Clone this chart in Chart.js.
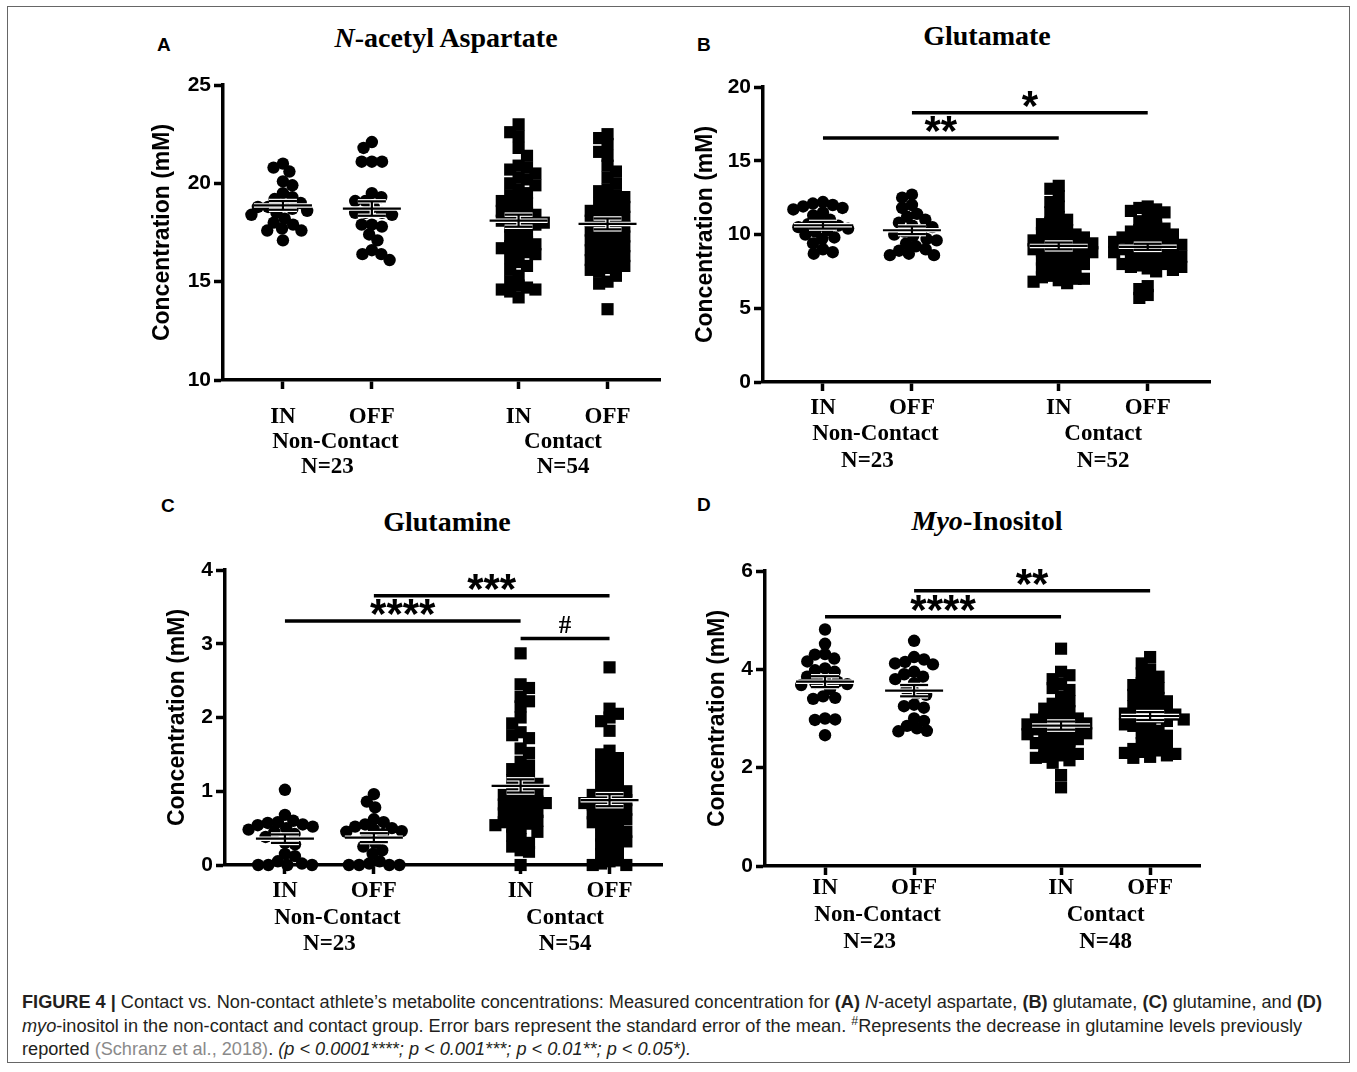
<!DOCTYPE html>
<html><head><meta charset="utf-8">
<script src="https://cdn.jsdelivr.net/npm/chart.js@4.4.1/dist/chart.umd.min.js"></script>
<style>
html,body{margin:0;padding:0;background:#fff;}
body{width:1357px;height:1072px;position:relative;overflow:hidden;}
#frame{position:absolute;left:7px;top:6px;width:1343px;height:1057px;border:1px solid #666;box-sizing:border-box;}
canvas{position:absolute;}
.title{position:absolute;font-family:"Liberation Serif","Times New Roman",serif;font-weight:bold;font-size:28px;transform:translate(-50%,-50%);white-space:nowrap;line-height:1;color:#000;}
.letter{position:absolute;font-family:"Liberation Sans",Arial,sans-serif;font-weight:bold;font-size:19px;line-height:1;color:#000;}
.cap{position:absolute;left:22px;font-family:"Liberation Sans",Arial,sans-serif;font-size:17.5px;line-height:23.5px;height:23.5px;color:#231f20;white-space:nowrap;transform-origin:0 50%;}
.cap .ref{color:#8a8a8a;}
</style>
</head><body>
<div id="frame"></div>
<div class="letter" style="left:157px;top:35px;">A</div>
<div class="letter" style="left:697px;top:35px;">B</div>
<div class="letter" style="left:161px;top:496px;">C</div>
<div class="letter" style="left:697px;top:495px;">D</div>
<div class="title" style="left:446px;top:38px;"><i>N</i>-acetyl Aspartate</div>
<div class="title" style="left:987px;top:36px;">Glutamate</div>
<div class="title" style="left:447px;top:522px;">Glutamine</div>
<div class="title" style="left:987px;top:521px;"><i>Myo</i>-Inositol</div>
<div class="cap" style="top:991px;"><b>FIGURE 4 |</b> Contact vs. Non-contact athlete’s metabolite concentrations: Measured concentration for <b>(A)</b> <i>N</i>-acetyl aspartate, <b>(B)</b> glutamate, <b>(C)</b> glutamine, and <b>(D)</b></div>
<div class="cap" style="top:1015px;"><i>myo</i>-inositol in the non-contact and contact group. Error bars represent the standard error of the mean. <sup style="font-size:12px;line-height:0">#</sup>Represents the decrease in glutamine levels previously</div>
<div class="cap" style="top:1038px;">reported <span class="ref">(Schranz et al., 2018)</span>. <i>(p &lt; 0.0001****; p &lt; 0.001***; p &lt; 0.01**; p &lt; 0.05*).</i></div>
<script>
// ---------- DATA ----------
const X_LABELS = ['IN', 'OFF', 'IN', 'OFF'];
const GROUP_LABELS = ['Non-Contact', 'Contact'];
const Y_TITLE = 'Concentration (mM)';

// (A) N-acetyl aspartate
const NAA_NC_IN  = [21.0, 20.8, 20.6, 20.1, 19.9, 19.5, 19.3, 19.2, 19.0, 18.9, 18.8, 18.8, 18.7, 18.6, 18.5, 18.4, 18.2, 18.0, 17.9, 17.7, 17.6, 17.6, 17.1];
const NAA_NC_OFF = [22.1, 21.8, 21.1, 21.1, 21.1, 19.5, 19.3, 19.1, 19.1, 18.8, 18.5, 18.5, 18.5, 18.4, 17.8, 17.9, 17.9, 17.1, 17.4, 16.6, 16.4, 16.4, 16.1];
const NAA_C_IN   = [23.0, 22.6, 22.4, 21.8, 21.4, 20.9, 20.8, 20.7, 20.5, 20.3, 20.2, 20.0, 19.9, 19.7, 19.5, 19.4, 19.2, 19.1, 19.0, 18.8, 18.7, 18.6, 18.5, 18.4, 18.3, 18.2, 18.1, 18.0, 18.0, 17.9, 17.8, 17.6, 17.5, 17.3, 17.1, 17.0, 16.9, 16.8, 16.7, 16.6, 16.5, 16.4, 16.2, 16.0, 15.8, 15.6, 15.3, 15.0, 14.8, 14.7, 14.6, 14.6, 14.5, 14.2];
const NAA_C_OFF  = [22.5, 22.3, 22.0, 21.6, 21.4, 20.9, 20.6, 20.3, 20.0, 19.7, 19.6, 19.4, 19.3, 19.2, 19.0, 18.9, 18.8, 18.7, 18.6, 18.5, 18.4, 18.3, 18.2, 18.1, 18.0, 17.9, 17.8, 17.7, 17.6, 17.5, 17.4, 17.3, 17.2, 17.1, 17.0, 16.9, 16.8, 16.7, 16.6, 16.5, 16.4, 16.3, 16.2, 16.1, 16.0, 15.9, 15.8, 15.7, 15.6, 15.5, 15.3, 15.0, 14.9, 13.6];
const NAA_N = ['N=23', 'N=54'];
const NAA_TICKS = [10, 15, 20, 25];
const NAA_SIG = [];

// (B) Glutamate
const GLU_NC_IN  = [12.2, 12.1, 12.0, 11.9, 11.8, 11.7, 11.5, 11.3, 11.0, 10.8, 10.7, 10.6, 10.5, 10.4, 10.3, 10.2, 10.0, 9.8, 9.7, 9.4, 9.0, 8.8, 8.7];
const GLU_NC_OFF = [12.7, 12.5, 12.0, 11.8, 11.4, 11.2, 11.0, 10.8, 10.6, 10.5, 10.3, 10.2, 10.0, 9.9, 9.7, 9.6, 9.4, 9.2, 9.0, 8.9, 8.7, 8.6, 8.6];
const GLU_C_IN   = [13.3, 13.1, 12.6, 12.2, 11.9, 11.5, 11.2, 11.0, 10.8, 10.7, 10.5, 10.3, 10.2, 10.1, 10.0, 9.9, 9.8, 9.7, 9.6, 9.6, 9.5, 9.4, 9.4, 9.3, 9.2, 9.1, 9.0, 9.0, 8.9, 8.8, 8.8, 8.7, 8.6, 8.5, 8.4, 8.3, 8.2, 8.1, 8.0, 7.9, 7.8, 7.7, 7.6, 7.5, 7.3, 7.2, 7.1, 7.0, 7.0, 6.9, 6.8, 6.7];
const GLU_C_OFF  = [11.9, 11.8, 11.7, 11.6, 11.5, 11.3, 11.1, 10.9, 10.7, 10.5, 10.4, 10.3, 10.2, 10.1, 10.0, 9.9, 9.8, 9.8, 9.7, 9.6, 9.5, 9.5, 9.4, 9.3, 9.3, 9.2, 9.1, 9.0, 9.0, 8.9, 8.8, 8.8, 8.7, 8.6, 8.5, 8.5, 8.4, 8.3, 8.2, 8.1, 8.0, 8.0, 7.9, 7.8, 7.8, 7.7, 7.6, 7.5, 6.5, 6.3, 5.9, 5.7];
const GLU_N = ['N=23', 'N=52'];
const GLU_TICKS = [0, 5, 10, 15, 20];
const GLU_SIG = [{from: 0, to: 2, y: 16.55, label: '**'}, {from: 1, to: 3, y: 18.25, label: '*'}];

// (C) Glutamine
const GLN_NC_IN  = [1.02, 0.68, 0.60, 0.58, 0.57, 0.55, 0.54, 0.52, 0.50, 0.48, 0.45, 0.42, 0.38, 0.30, 0.28, 0.15, 0.12, 0.05, 0.02, 0.0, 0.0, 0.0, 0.0];
const GLN_NC_OFF = [0.96, 0.86, 0.78, 0.62, 0.58, 0.55, 0.52, 0.50, 0.48, 0.46, 0.45, 0.42, 0.38, 0.30, 0.25, 0.20, 0.15, 0.05, 0.02, 0.0, 0.0, 0.0, 0.0];
const GLN_C_IN   = [2.87, 2.45, 2.40, 2.28, 2.22, 2.15, 2.00, 1.92, 1.80, 1.76, 1.72, 1.58, 1.52, 1.40, 1.35, 1.30, 1.25, 1.20, 1.15, 1.12, 1.10, 1.05, 1.02, 1.00, 0.98, 0.95, 0.92, 0.90, 0.88, 0.86, 0.84, 0.82, 0.80, 0.78, 0.75, 0.72, 0.70, 0.68, 0.65, 0.62, 0.60, 0.58, 0.56, 0.54, 0.52, 0.50, 0.45, 0.40, 0.35, 0.30, 0.25, 0.20, 0.18, 0.0];
const GLN_C_OFF  = [2.68, 2.12, 2.05, 2.00, 1.95, 1.82, 1.55, 1.50, 1.45, 1.40, 1.35, 1.30, 1.25, 1.20, 1.15, 1.10, 1.05, 1.02, 1.00, 0.98, 0.95, 0.92, 0.90, 0.88, 0.86, 0.84, 0.82, 0.80, 0.78, 0.75, 0.72, 0.70, 0.68, 0.65, 0.62, 0.60, 0.58, 0.55, 0.52, 0.48, 0.45, 0.40, 0.38, 0.35, 0.32, 0.28, 0.25, 0.20, 0.15, 0.10, 0.05, 0.02, 0.0, 0.0];
const GLN_N = ['N=23', 'N=54'];
const GLN_TICKS = [0, 1, 2, 3, 4];
const GLN_SIG = [{from: 0, to: 2, y: 3.31, label: '****'}, {from: 1, to: 3, y: 3.65, label: '***'}, {from: 2, to: 3, y: 3.07, label: '#'}];

// (D) Myo-inositol
const MI_NC_IN  = [4.81, 4.52, 4.31, 4.30, 4.22, 4.16, 4.02, 3.98, 3.95, 3.85, 3.78, 3.75, 3.72, 3.70, 3.68, 3.60, 3.45, 3.42, 3.40, 3.00, 2.98, 2.97, 2.66];
const MI_NC_OFF = [4.58, 4.25, 4.20, 4.15, 4.12, 4.10, 3.95, 3.90, 3.85, 3.80, 3.72, 3.58, 3.50, 3.48, 3.28, 3.25, 3.22, 3.00, 2.95, 2.85, 2.80, 2.75, 2.74];
const MI_C_IN   = [4.42, 3.95, 3.88, 3.80, 3.70, 3.62, 3.58, 3.45, 3.35, 3.30, 3.25, 3.20, 3.15, 3.10, 3.05, 3.02, 3.00, 2.98, 2.95, 2.92, 2.90, 2.88, 2.85, 2.82, 2.80, 2.78, 2.75, 2.72, 2.70, 2.68, 2.65, 2.60, 2.58, 2.55, 2.52, 2.50, 2.45, 2.40, 2.35, 2.30, 2.28, 2.25, 2.22, 2.20, 2.15, 2.10, 1.85, 1.60];
const MI_C_OFF  = [4.25, 4.12, 4.00, 3.92, 3.85, 3.78, 3.72, 3.68, 3.62, 3.58, 3.52, 3.48, 3.42, 3.38, 3.35, 3.30, 3.25, 3.22, 3.18, 3.15, 3.12, 3.10, 3.08, 3.05, 3.02, 3.00, 2.98, 2.95, 2.92, 2.88, 2.85, 2.80, 2.75, 2.70, 2.65, 2.60, 2.55, 2.50, 2.45, 2.40, 2.38, 2.35, 2.32, 2.30, 2.28, 2.25, 2.22, 2.20];
const MI_N = ['N=23', 'N=48'];
const MI_TICKS = [0, 2, 4, 6];
const MI_SIG = [{from: 0, to: 2, y: 5.07, label: '****'}, {from: 1, to: 3, y: 5.6, label: '**'}];

// ---------- LAYOUT ----------
const GROUP_X = [1, 2, 3.65, 4.65];
const X_MIN = 0.326;
const UNIT_PX = 89;
const AREA_H = 295;
const PAD_L = 10, Y_W = 90, PAD_T = 20, PAD_R = 20, X_H = 110;
const CIRCLE_GAP = 10.2, RECT_GAP = 8.4;

const PANELS = [
  {series: [NAA_NC_IN, NAA_NC_OFF, NAA_C_IN, NAA_C_OFF], ticks: NAA_TICKS, nl: NAA_N, sig: NAA_SIG,
   areaLeft: 223, areaTop: 85, xMax: 5.24, labOff: [37, 62, 87], titleOff: 60},
  {series: [GLU_NC_IN, GLU_NC_OFF, GLU_C_IN, GLU_C_OFF], ticks: GLU_TICKS, nl: GLU_N, sig: GLU_SIG,
   areaLeft: 763, areaTop: 87, xMax: 5.35, labOff: [26, 52, 79], titleOff: 57},
  {series: [GLN_NC_IN, GLN_NC_OFF, GLN_C_IN, GLN_C_OFF], ticks: GLN_TICKS, nl: GLN_N, sig: GLN_SIG,
   areaLeft: 225, areaTop: 570, xMax: 5.24, labOff: [26, 53, 79], titleOff: 47},
  {series: [MI_NC_IN, MI_NC_OFF, MI_C_IN, MI_C_OFF], ticks: MI_TICKS, nl: MI_N, sig: MI_SIG,
   areaLeft: 765, areaTop: 571, xMax: 5.21, labOff: [22, 49, 76], titleOff: 47}
];

const SANS = '"Liberation Sans", Arial, sans-serif';
const SERIF = '"Liberation Serif", "Times New Roman", serif';

function stats(v) {
  const n = v.length;
  const m = v.reduce((a, b) => a + b, 0) / n;
  const sd = Math.sqrt(v.reduce((a, b) => a + (b - m) * (b - m), 0) / (n - 1));
  return {m, se: sd / Math.sqrt(n)};
}

const overlay = {
  id: 'overlay',
  afterDatasetsDraw(chart) {
    const cfg = chart.options.plugins.overlay;
    const ctx = chart.ctx, xs = chart.scales.x, ys = chart.scales.y, ca = chart.chartArea;
    const px = i => xs.getPixelForValue(GROUP_X[i]);
    const line = (x1, y1, x2, y2) => { ctx.beginPath(); ctx.moveTo(x1, y1); ctx.lineTo(x2, y2); ctx.stroke(); };
    ctx.save();
    ctx.lineCap = 'butt';
    // mean +/- SEM
    cfg.series.forEach((vals, i) => {
      const s = stats(vals);
      const cx = px(i), ym = ys.getPixelForValue(s.m);
      const yh = ys.getPixelForValue(s.m + s.se), yl = ys.getPixelForValue(s.m - s.se);
      [['#fff', 4.5], ['#000', 2.2]].forEach(([col, w]) => {
        ctx.strokeStyle = col; ctx.lineWidth = w;
        line(cx - 29, ym, cx + 29, ym);
        line(cx - 14, yh, cx + 14, yh);
        line(cx - 14, yl, cx + 14, yl);
        line(cx, yh, cx, yl);
      });
    });
    // significance bars
    ctx.strokeStyle = '#000'; ctx.fillStyle = '#000'; ctx.lineWidth = 3.5;
    cfg.sig.forEach(b => {
      const x1 = px(b.from), x2 = px(b.to), y = ys.getPixelForValue(b.y);
      line(x1, y, x2, y);
      ctx.textAlign = 'center'; ctx.textBaseline = 'alphabetic';
      if (b.label === '#') {
        ctx.font = 'bold 25px ' + SERIF;
        ctx.fillText(b.label, (x1 + x2) / 2, y - 6);
      } else {
        ctx.font = 'bold 42px ' + SANS;
        ctx.fillText(b.label, (x1 + x2) / 2, y + 7);
      }
    });
    // category labels
    ctx.font = 'bold 23px ' + SERIF;
    ctx.textAlign = 'center'; ctx.textBaseline = 'middle';
    X_LABELS.forEach((t, i) => ctx.fillText(t, px(i), ca.bottom + cfg.labOff[0]));
    ctx.fillText(GROUP_LABELS[0], (px(0) + px(1)) / 2 + 8, ca.bottom + cfg.labOff[1]);
    ctx.fillText(GROUP_LABELS[1], (px(2) + px(3)) / 2, ca.bottom + cfg.labOff[1]);
    ctx.fillText(cfg.nl[0], (px(0) + px(1)) / 2, ca.bottom + cfg.labOff[2]);
    ctx.fillText(cfg.nl[1], (px(2) + px(3)) / 2, ca.bottom + cfg.labOff[2]);
    // y title
    ctx.translate(ca.left - cfg.titleOff, (ca.top + ca.bottom) / 2);
    ctx.rotate(-Math.PI / 2);
    ctx.font = 'bold 23px ' + SANS;
    ctx.fillText(Y_TITLE, 0, 0);
    ctx.restore();
  }
};

function swarm(chart) {
  const xs = chart.scales.x, ys = chart.scales.y;
  const unit = Math.abs(xs.getPixelForValue(1) - xs.getPixelForValue(0));
  chart.data.datasets.forEach((ds, i) => {
    const isRect = ds.pointStyle === 'rect';
    const d = isRect ? RECT_GAP : CIRCLE_GAP;
    const pts = ds.data.map((p, k) => ({k, y: p.y, py: ys.getPixelForValue(p.y)}));
    pts.sort((a, b) => a.py - b.py);
    const placed = [];
    pts.forEach((p, idx) => {
      const ivs = [];
      placed.forEach(q => {
        const dy = Math.abs(q.py - p.py);
        if (dy < d) {
          const w = isRect ? d : Math.sqrt(d * d - dy * dy);
          ivs.push([q.ox - w, q.ox + w]);
        }
      });
      const cands = [0];
      ivs.forEach(iv => cands.push(iv[0], iv[1]));
      cands.sort((a, b) => (Math.abs(a) - Math.abs(b)) || (idx % 2 ? a - b : b - a));
      let best = 0;
      for (const c of cands) {
        if (!ivs.some(iv => c > iv[0] + 1e-6 && c < iv[1] - 1e-6)) { best = c; break; }
      }
      p.ox = best; placed.push(p);
    });
    const out = new Array(pts.length);
    pts.forEach(p => { out[p.k] = {x: GROUP_X[i] + p.ox / unit, y: p.y}; });
    ds.data = out;
  });
}

PANELS.forEach(cfg => {
  const areaW = (cfg.xMax - X_MIN) * UNIT_PX;
  const cv = document.createElement('canvas');
  cv.width = Math.round(PAD_L + Y_W + areaW + PAD_R);
  cv.height = PAD_T + AREA_H + X_H;
  cv.style.left = (cfg.areaLeft - PAD_L - Y_W) + 'px';
  cv.style.top = (cfg.areaTop - PAD_T) + 'px';
  cv.style.width = cv.width + 'px';
  cv.style.height = cv.height + 'px';
  document.body.appendChild(cv);
  const ticks = cfg.ticks;
  const datasets = cfg.series.map((vals, i) => ({
    data: vals.map(v => ({x: GROUP_X[i], y: v})),
    pointStyle: i < 2 ? 'circle' : 'rect',
    pointRadius: i < 2 ? 6.2 : 8.6,
    pointHoverRadius: i < 2 ? 6.2 : 8.6,
    backgroundColor: '#000',
    borderColor: '#000',
    borderWidth: 0,
    clip: false
  }));
  const chart = new Chart(cv, {
    type: 'scatter',
    data: {datasets},
    options: {
      responsive: false,
      devicePixelRatio: 1,
      animation: false,
      events: [],
      layout: {padding: {left: PAD_L, top: PAD_T, right: PAD_R, bottom: 0}},
      plugins: {legend: {display: false}, tooltip: {enabled: false}, overlay: cfg},
      scales: {
        x: {
          type: 'linear', min: X_MIN, max: cfg.xMax,
          afterBuildTicks: s => { s.ticks = GROUP_X.map(v => ({value: v})); },
          afterFit: s => { s.height = X_H; },
          ticks: {display: false},
          grid: {drawOnChartArea: false, drawTicks: true, tickLength: 9, tickWidth: 3.5, tickColor: '#000'},
          border: {display: true, color: '#000', width: 3.5}
        },
        y: {
          type: 'linear', min: ticks[0], max: ticks[ticks.length - 1],
          afterBuildTicks: s => { s.ticks = ticks.map(v => ({value: v})); },
          afterFit: s => { s.width = Y_W; },
          ticks: {color: '#000', padding: 3, font: {family: SANS, weight: 'bold', size: 21}},
          grid: {drawOnChartArea: false, drawTicks: true, tickLength: 9, tickWidth: 3.5, tickColor: '#000'},
          border: {display: true, color: '#000', width: 3.5}
        }
      }
    },
    plugins: [overlay]
  });
  swarm(chart);
  chart.update('none');
});

// condense caption lines to the printed width
(function () {
  const caps = document.querySelectorAll('.cap');
  caps.forEach(c => { c.style.display = 'inline-block'; });
  const s = 1300 / caps[0].getBoundingClientRect().width;
  caps.forEach(c => { c.style.transform = 'scaleX(' + s + ')'; });
})();
</script>
</body></html>
